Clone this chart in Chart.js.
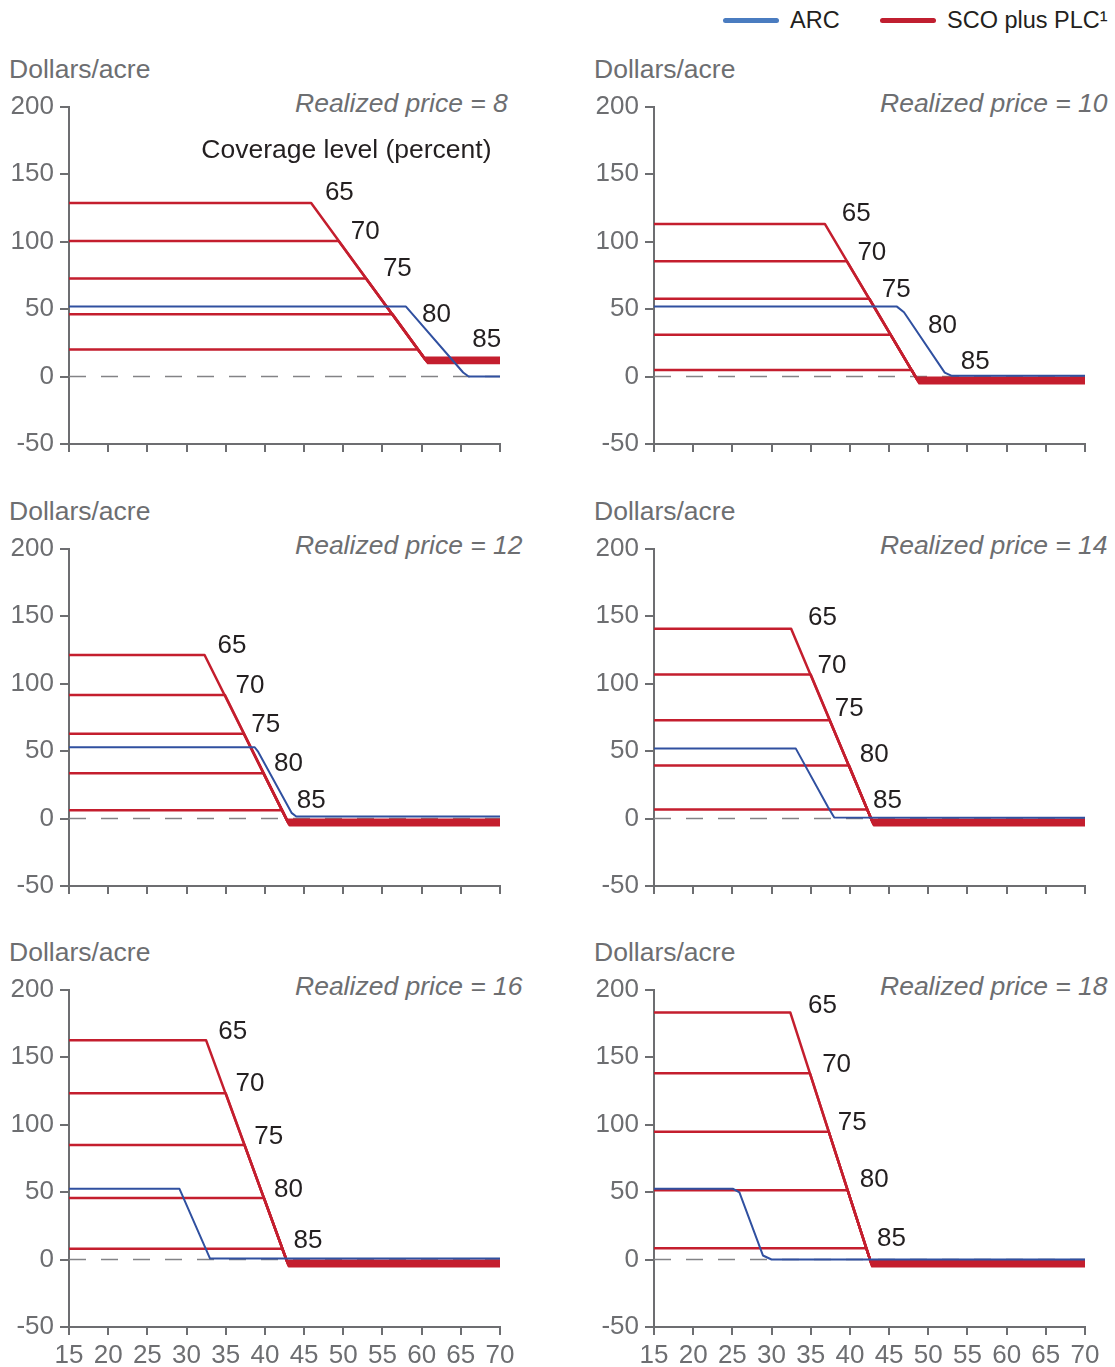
<!DOCTYPE html>
<html>
<head>
<meta charset="utf-8">
<script src="https://cdn.jsdelivr.net/npm/chart.js@4.4.1/dist/chart.umd.min.js"></script>
<style>
  body { margin: 0; background: #fff; font-family: "Liberation Sans", Arial, sans-serif; }
  #page { position: relative; width: 1115px; height: 1367px; overflow: hidden; }
  canvas { position: absolute; }
  .txt { position: absolute; white-space: nowrap; line-height: 1; }
  .unit { font-size: 26.5px; color: #6d6e71; }
  .price { font-size: 26.5px; color: #6d6e71; font-style: italic; }
  .legend { font-size: 23.5px; color: #231f20; }
  .swatch { position: absolute; height: 5px; border-radius: 3px; }
</style>
</head>
<body>
<div id="page">
  <div class="swatch" style="left:723px; top:18px; width:56px; background:#4a7cc0;"></div>
  <div class="txt legend" style="left:790px; top:9px;">ARC</div>
  <div class="swatch" style="left:880px; top:18px; width:56px; background:#c01f30;"></div>
  <div class="txt legend" style="left:947px; top:9px;">SCO plus PLC¹</div>
</div>

<script>
// chart values
const panelPrices = [8, 10, 12, 14, 16, 18];
const coverageLevels = [65, 70, 75, 80, 85];
const xTicks = [15, 20, 25, 30, 35, 40, 45, 50, 55, 60, 65, 70];
const yTicks = [-50, 0, 50, 100, 150, 200];

// SCO plus PLC: flat payment, yield where decline starts, yield / payment at the floor
const scoPayment = [
  [128.6, 100.4, 72.6, 46.1, 20.1],
  [113.1, 85.4, 57.7, 30.9, 4.9],
  [121.2, 91.5, 62.8, 33.6, 6.1],
  [140.6, 106.7, 72.9, 39.3, 6.6],
  [162.4, 123.2, 84.9, 45.5, 7.9],
  [183.0, 138.0, 94.7, 51.4, 8.4],
];
const scoKneeYield = [
  [45.9, 49.4, 52.9, 56.3, 59.5],
  [36.8, 39.6, 42.5, 45.2, 47.9],
  [32.3, 34.9, 37.3, 39.8, 42.2],
  [32.5, 35.0, 37.4, 39.9, 42.2],
  [32.5, 35.0, 37.4, 39.9, 42.2],
  [32.4, 34.9, 37.3, 39.7, 42.1],
];
const scoFloorYield = [
  [60.3, 60.4, 60.55, 60.7, 60.8],
  [48.45, 48.56, 48.66, 48.76, 48.86],
  [42.8, 42.88, 42.97, 43.05, 43.14],
  [42.77, 42.84, 42.92, 42.99, 43.06],
  [42.8, 42.86, 42.93, 42.99, 43.05],
  [42.62, 42.67, 42.73, 42.78, 42.84],
];
const scoFloor = [
  [14, 13, 12, 11, 10],
  [-1, -2, -3, -4, -5],
  [-1, -2, -3, -4, -5],
  [-1, -2, -3, -4, -5],
  [-1, -2, -3, -4, -5],
  [-1, -2, -3, -4, -5],
];

// ARC breakpoints
const arcYield = [
  [15, 58.0, 65.3, 66.0, 70],
  [15, 46.0, 46.9, 52.1, 53.0, 70],
  [15, 38.7, 39.1, 43.4, 44.0, 70],
  [15, 33.1, 37.2, 38.0, 70],
  [15, 29.1, 33.0, 70],
  [15, 25.1, 25.9, 28.9, 30.0, 70],
];
const arcPayment = [
  [51.8, 51.8, 3, 0, 0],
  [51.8, 51.8, 47.6, 2.9, 0.5, 0.5],
  [52.8, 52.8, 49.8, 4.2, 1.5, 1.5],
  [51.8, 51.8, 8.6, 0.7, 0.5],
  [52.4, 52.4, 0.7, 0.7],
  [52.4, 52.4, 49.7, 3.0, 0, 0],
];

// where the coverage numbers sit (data coords)
const tagX = [
  [49.5, 52.8, 56.9, 61.9, 68.3],
  [40.8, 42.8, 45.9, 51.8, 56.0],
  [35.8, 38.1, 40.1, 43.0, 45.9],
  [36.5, 37.7, 39.9, 43.1, 44.8],
  [35.9, 38.1, 40.5, 43.0, 45.5],
  [36.5, 38.3, 40.3, 43.1, 45.3],
];
const tagY = [
  [136.4, 107.4, 79.8, 46.0, 27.5],
  [120.4, 91.9, 64.4, 37.3, 10.8],
  [127.6, 98.2, 69.4, 40.5, 13.0],
  [149.0, 112.9, 81.0, 47.1, 13.0],
  [168.7, 129.9, 91.0, 51.9, 14.2],
  [188.2, 144.4, 101.3, 59.0, 15.3],
];

const RED = "#c41e2e";
const BLUE = "#3050a0";
const GREY = "#6d6e71";
const FONT = '"Liberation Sans", Arial, sans-serif';

Chart.defaults.font.family = FONT;
Chart.defaults.font.size = 26;
Chart.defaults.color = GREY;

const page = document.getElementById("page");

// panel placement: column left, row top (200 line sits 20px below canvas top)
const colLeft = [0, 585];
const rowTop = [85, 527, 968];

const tagPlugin = {
  id: "tags",
  afterDatasetsDraw(chart, args, opts) {
    const { ctx, scales } = chart;
    ctx.save();
    ctx.font = "26px " + FONT;
    ctx.fillStyle = "#231f20";
    ctx.textAlign = "center";
    ctx.textBaseline = "middle";
    opts.items.forEach((t) => {
      if (t.size) ctx.font = t.size + "px " + FONT;
      ctx.fillText(t.text, scales.x.getPixelForValue(t.x), scales.y.getPixelForValue(t.y));
    });
    ctx.restore();
  },
};

function addText(cls, txt, left, top) {
  const d = document.createElement("div");
  d.className = "txt " + cls;
  d.textContent = txt;
  d.style.left = left + "px";
  d.style.top = top + "px";
  page.appendChild(d);
}

panelPrices.forEach((price, p) => {
  const col = p % 2;
  const row = Math.floor(p / 2);
  const left = colLeft[col];
  const top = rowTop[row];
  const bottomRow = row === 2;

  addText("unit", "Dollars/acre", left + 9, top - 29);
  addText("price", "Realized price = " + price, left + 295, top + 5);

  const cv = document.createElement("canvas");
  cv.width = 530;
  cv.height = 399;
  cv.style.left = left + "px";
  cv.style.top = top + "px";
  page.appendChild(cv);

  const datasets = [];
  datasets.push({
    data: arcYield[p].map((x, i) => ({ x, y: arcPayment[p][i] })),
    borderColor: BLUE,
    borderWidth: 2,
  });
  coverageLevels.forEach((c, k) => {
    datasets.push({
      data: [
        { x: xTicks[0], y: scoPayment[p][k] },
        { x: scoKneeYield[p][k], y: scoPayment[p][k] },
        { x: scoFloorYield[p][k], y: scoFloor[p][k] },
        { x: xTicks[xTicks.length - 1], y: scoFloor[p][k] },
      ],
      borderColor: RED,
      borderWidth: 2.5,
    });
  });
  // zero reference line
  datasets.push({
    data: [
      { x: xTicks[0], y: 0 },
      { x: xTicks[xTicks.length - 1], y: 0 },
    ],
    borderColor: "#838386",
    borderWidth: 1.4,
    borderDash: [17, 15],
  });

  const items = coverageLevels.map((c, k) => ({ text: String(c), x: tagX[p][k], y: tagY[p][k] }));
  if (p === 0) items.push({ text: "Coverage level (percent)", x: 50.4, y: 167.6, size: 26.5 });

  new Chart(cv, {
    type: "line",
    data: { datasets },
    plugins: [tagPlugin],
    options: {
      responsive: false,
      animation: false,
      layout: { padding: { top: 20, right: 30, bottom: 0, left: 0 } },
      elements: { point: { radius: 0 }, line: { tension: 0, borderJoinStyle: "round" } },
      plugins: { legend: { display: false }, tooltip: { enabled: false }, tags: { items } },
      scales: {
        x: {
          type: "linear",
          min: xTicks[0],
          max: xTicks[xTicks.length - 1],
          afterBuildTicks: (s) => { s.ticks = xTicks.map((v) => ({ value: v })); },
          afterFit: (s) => { s.height = 40; },
          grid: { drawOnChartArea: false, tickLength: 8, color: GREY, lineWidth: 2 },
          border: { color: GREY, width: 2 },
          ticks: {
            padding: 5,
            color: GREY,
            maxRotation: 0,
            autoSkip: false,
            callback: (v) => (bottomRow ? String(v) : ""),
          },
        },
        y: {
          type: "linear",
          min: yTicks[0],
          max: yTicks[yTicks.length - 1],
          afterBuildTicks: (s) => { s.ticks = yTicks.map((v) => ({ value: v })); },
          afterFit: (s) => { s.width = 69; },
          grid: { drawOnChartArea: false, tickLength: 9, color: GREY, lineWidth: 2 },
          border: { color: GREY, width: 2 },
          ticks: { padding: 6, color: GREY },
        },
      },
    },
  });
});
</script>
</body>
</html>
